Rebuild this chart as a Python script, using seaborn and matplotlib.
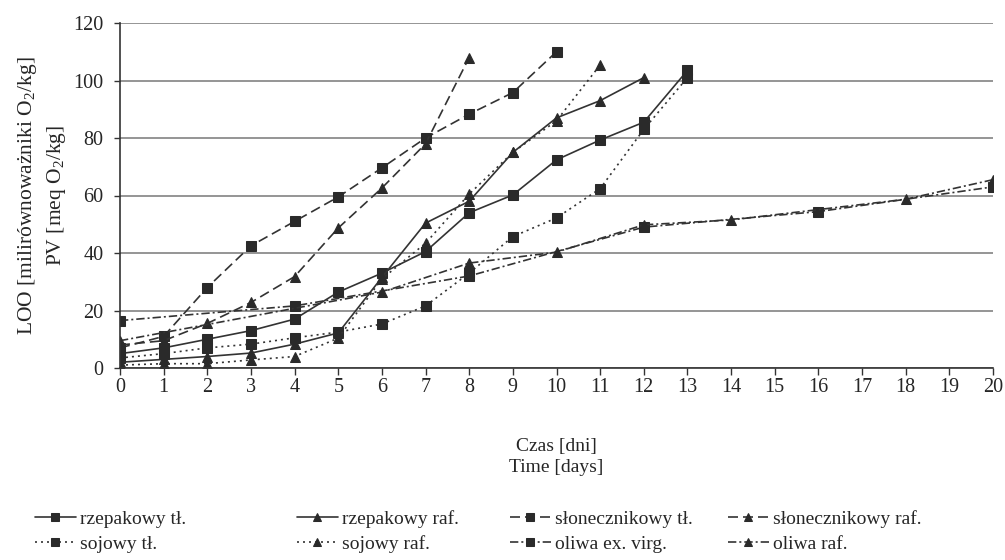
import matplotlib
matplotlib.use("Agg")
from matplotlib import pyplot as plt
import seaborn as sns

# dane
rzep_tl_days = [0, 1, 2, 3, 4, 5, 6, 7, 8, 9, 10, 11, 12, 13]
rzep_tl = [5, 7, 10, 13, 17, 26.4, 33, 40.5, 54, 60.2, 72.4, 79.3, 85.5, 103.5]

rzep_raf_days = [0, 1, 2, 3, 4, 5, 6, 7, 8, 9, 10, 11, 12]
rzep_raf = [2, 3, 4, 5.2, 8.3, 12.2, 31.5, 50.4, 58, 75, 87, 93, 101]

slon_tl_days = [0, 1, 2, 3, 4, 5, 6, 7, 8, 9, 10]
slon_tl = [7, 11, 28, 42.5, 51, 59.5, 69.6, 80, 88.3, 95.8, 110]

slon_raf_days = [0, 1, 2, 3, 4, 5, 6, 7, 8]
slon_raf = [8, 9.5, 15.5, 22.8, 31.8, 48.7, 62.6, 78, 108]

soj_tl_days = [0, 1, 2, 3, 4, 5, 6, 7, 8, 9, 10, 11, 12, 13]
soj_tl = [3.5, 5, 7, 8.3, 10.5, 12.5, 15.3, 21.6, 33, 45.7, 52.2, 62.4, 83, 101]

soj_raf_days = [0, 1, 2, 3, 4, 5, 6, 7, 8, 9, 10, 11]
soj_raf = [1, 1.5, 1.5, 2.8, 4, 10.4, 31, 43.4, 60.5, 75, 86, 105.4]

oliwa_ev_days = [0, 4, 8, 12, 16, 20]
oliwa_ev = [16.5, 21.6, 32, 49, 54.4, 63]

oliwa_raf_days = [0, 6, 8, 10, 12, 14, 18, 20]
oliwa_raf = [9.5, 26.4, 36.5, 40.3, 49.8, 51.5, 58.7, 65.5]

x_ticks = list(range(0, 21))
y_ticks = [0, 20, 40, 60, 80, 100, 120]

sns.set_style("ticks")
plt.rcParams['font.family'] = ['Liberation Serif', 'DejaVu Serif']
plt.rcParams['mathtext.fontset'] = 'custom'
plt.rcParams['mathtext.rm'] = 'Liberation Serif'
plt.rcParams['font.size'] = 14

LINE = '#333333'
solid = '-'
dashed = (0, (6, 3))
dotted = (0, (1.2, 2.4))
dashdot = (0, (5, 1.8, 1.2, 1.8))

series = [
    ('rzepakowy tł.', rzep_tl_days, rzep_tl, solid, 's'),
    ('rzepakowy raf.', rzep_raf_days, rzep_raf, solid, '^'),
    ('słonecznikowy tł.', slon_tl_days, slon_tl, dashed, 's'),
    ('słonecznikowy raf.', slon_raf_days, slon_raf, dashed, '^'),
    ('sojowy tł.', soj_tl_days, soj_tl, dotted, 's'),
    ('sojowy raf.', soj_raf_days, soj_raf, dotted, '^'),
    ('oliwa ex. virg.', oliwa_ev_days, oliwa_ev, dashdot, 's'),
    ('oliwa raf.', oliwa_raf_days, oliwa_raf, dashdot, '^'),
]

fig = plt.figure(figsize=(10.05, 5.6), dpi=100)
ax = fig.add_axes([120 / 1005, 1 - 368 / 560, (993 - 120) / 1005, (368 - 23) / 560])

for name, d, v, ls, mk in series:
    sns.lineplot(x=d, y=v, ax=ax, color=LINE, linestyle=ls, linewidth=1.2,
                 marker=mk, markersize=7 if mk == 's' else 7.5,
                 markeredgecolor='#2a2a2a', markerfacecolor='#2a2a2a',
                 label=name)

if ax.get_legend() is not None:
    ax.get_legend().remove()

ax.set_xlim(0, 20)
ax.set_ylim(0, 120)
ax.set_xticks(x_ticks)
ax.set_yticks(y_ticks)
ax.yaxis.grid(True, color='#8c8c8c', linewidth=1.3)
ax.set_axisbelow(True)
for s in ['top', 'right']:
    ax.spines[s].set_visible(False)
for s in ['left', 'bottom']:
    ax.spines[s].set_color('#333333')
    ax.spines[s].set_linewidth(1.2)
ax.tick_params(axis='x', length=5, width=1, color='#333333', pad=2, labelsize=14.5)
ax.tick_params(axis='y', length=4, width=1, color='#333333', pad=8, labelsize=14.5)

ax.set_xlabel('Czas [dni]\nTime [days]', fontsize=14, labelpad=30, linespacing=1.25)
ax.set_ylabel('LOO [milirównoważniki O$_2$/kg]\nPV [meq O$_2$/kg]', fontsize=15.5,
              labelpad=4, linespacing=1.35)

handles, labels = ax.get_legend_handles_labels()
col_x = [35, 297, 510, 728]
for i, x in enumerate(col_x):
    idx = [i, i + 4]
    fig.legend([handles[j] for j in idx], [labels[j] for j in idx],
               loc='center left', bbox_to_anchor=(x / 1005, 1 - 531.5 / 560),
               frameon=False, borderpad=0, borderaxespad=0, handlelength=2.1,
               handletextpad=0.2, labelspacing=0.4, numpoints=1, fontsize=14,
               markerscale=0.75)

fig.savefig('out.png', dpi=100)
